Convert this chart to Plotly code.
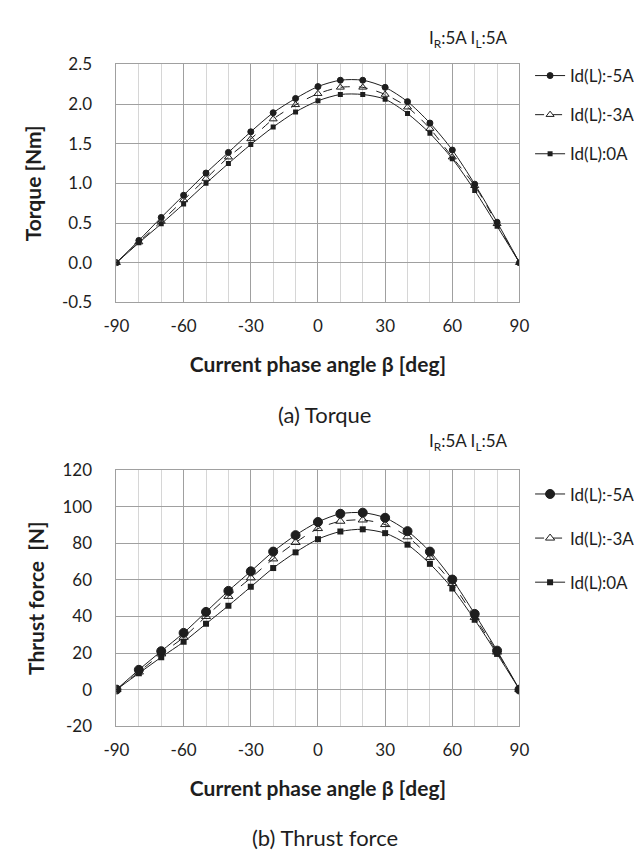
import plotly.graph_objects as go

beta = [-90, -80, -70, -60, -50, -40, -30, -20, -10, 0, 10, 20, 30, 40, 50, 60, 70, 80, 90]

torque_m5 = [0.0, 0.28, 0.57, 0.85, 1.13, 1.39, 1.65, 1.89, 2.07, 2.22, 2.30, 2.30, 2.21, 2.03, 1.76, 1.42, 0.99, 0.51, 0.0]
torque_m3 = [0.0, 0.26, 0.52, 0.79, 1.06, 1.33, 1.56, 1.81, 1.99, 2.13, 2.21, 2.21, 2.12, 1.96, 1.69, 1.33, 0.97, 0.49, 0.0]
torque_0 = [0.0, 0.25, 0.49, 0.74, 1.00, 1.25, 1.49, 1.71, 1.90, 2.04, 2.12, 2.12, 2.06, 1.88, 1.63, 1.31, 0.91, 0.46, 0.0]

thrust_m5 = [0.0, 10.8, 21.0, 31.0, 42.5, 54.0, 64.7, 75.5, 84.5, 91.7, 96.2, 96.8, 94.0, 86.7, 75.5, 60.2, 41.4, 21.3, 0.0]
thrust_m3 = [0.0, 9.6, 19.5, 28.6, 40.0, 51.0, 61.1, 71.5, 80.5, 88.1, 92.1, 92.8, 90.3, 83.6, 72.3, 58.0, 39.5, 20.5, 0.0]
thrust_0 = [0.0, 8.9, 17.7, 26.1, 36.0, 45.9, 56.2, 66.5, 75.1, 82.3, 86.5, 87.7, 85.6, 79.3, 68.8, 55.3, 38.2, 19.5, 0.0]

names = ["Id(L):-5A", "Id(L):-3A", "Id(L):0A"]
x_ticks = [-90, -60, -30, 0, 30, 60, 90]
x_ticktext = ["-90", "-60", "-30", "0", "30", "60", "90"]
torque_ticks = [-0.5, 0.0, 0.5, 1.0, 1.5, 2.0, 2.5]
torque_ticktext = ["-0.5", "0.0", "0.5", "1.0", "1.5", "2.0", "2.5"]
thrust_ticks = [-20, 0, 20, 40, 60, 80, 100, 120]
thrust_ticktext = ["-20", "0", "20", "40", "60", "80", "100", "120"]

FONT = "Lato, 'Noto Sans', sans-serif"
INK = "#1e1e1e"
W, H = 642, 851

fig = go.Figure()

styles = [
    dict(symbol="circle", color=INK, line=dict(color=INK, width=1)),
    dict(symbol="triangle-up-open", color=INK, line=dict(color=INK, width=1)),
    dict(symbol="square", color=INK, line=dict(color=INK, width=0)),
]
dashes = ["solid", "dash", "solid"]
top_sizes = [6, 7, 5]
bot_sizes = [9, 8, 6]

for i, (ys, nm) in enumerate(zip([torque_m5, torque_m3, torque_0], names)):
    fig.add_trace(go.Scatter(
        x=beta, y=ys, name=nm, mode="lines+markers",
        line=dict(color=INK, width=1, dash=dashes[i], shape="spline", smoothing=0.8),
        marker=dict(size=top_sizes[i], **styles[i]),
        xaxis="x", yaxis="y", legend="legend", legendgroup="a" + str(i),
    ))

for i, (ys, nm) in enumerate(zip([thrust_m5, thrust_m3, thrust_0], names)):
    fig.add_trace(go.Scatter(
        x=beta, y=ys, name=nm, mode="lines+markers",
        line=dict(color=INK, width=1, dash=dashes[i], shape="spline", smoothing=0.8),
        marker=dict(size=bot_sizes[i], **styles[i]),
        xaxis="x2", yaxis="y2", legend="legend2", legendgroup="b" + str(i),
    ))

x_dom = [99 / W, 517 / W]
top_dom = [1 - 290.5 / H, 1 - 46.5 / H]
bot_dom = [1 - 725 / H, 1 - 462.7 / H]

GRID = "#a0a0a0"
xax = dict(
    range=[-90, 90], tickvals=x_ticks, ticktext=x_ticktext, ticks="", showgrid=True,
    gridcolor=GRID, gridwidth=1, zeroline=False,
    showline=True, linecolor=GRID, linewidth=1, mirror=True,
    minor=dict(dtick=10, showgrid=True, gridcolor="#d6d6d6", gridwidth=1, ticks=""),
    tickfont=dict(family=FONT, size=17, color=INK),
    ticklabelstandoff=8,
    title=dict(text="<b>Current phase angle β [deg]</b>", font=dict(family=FONT, size=21, color=INK), standoff=22),
)

yax_common = dict(
    ticks="", showgrid=True, gridcolor=GRID, zeroline=False,
    showline=True, linecolor=GRID, mirror=True,
    tickfont=dict(family=FONT, size=17, color=INK), ticklabelstandoff=20,
)

fig.update_layout(
    width=W, height=H,
    margin=dict(l=0, r=0, t=0, b=0),
    paper_bgcolor="white", plot_bgcolor="white",
    showlegend=True,
    xaxis=dict(domain=x_dom, anchor="y", **xax),
    xaxis2=dict(domain=x_dom, anchor="y2", **xax),
    yaxis=dict(
        domain=top_dom, anchor="x", range=[-0.5, 2.5], tickvals=torque_ticks, ticktext=torque_ticktext,
        title=dict(text="<b>Torque [Nm]</b>", font=dict(family=FONT, size=21, color=INK), standoff=14),
        **yax_common,
    ),
    yaxis2=dict(
        domain=bot_dom, anchor="x2", range=[-20, 120], tickvals=thrust_ticks, ticktext=thrust_ticktext,
        title=dict(text="<b>Thrust force  [N]</b>", font=dict(family=FONT, size=21, color=INK), standoff=12),
        **yax_common,
    ),
    legend=dict(
        x=528 / W, xanchor="left", y=1 - 40 / H, yanchor="top",
        font=dict(family=FONT, size=17, color=INK), tracegroupgap=14,
        bgcolor="rgba(0,0,0,0)", itemwidth=30,
    ),
    legend2=dict(
        x=528 / W, xanchor="left", y=1 - 469 / H, yanchor="top",
        font=dict(family=FONT, size=17, color=INK), tracegroupgap=19,
        bgcolor="rgba(0,0,0,0)", itemwidth=30,
    ),
    annotations=[
        dict(text="I<sub>R</sub>:5A I<sub>L</sub>:5A", x=507 / W, y=1 - 20 / H, xref="paper", yref="paper",
             xanchor="right", yanchor="middle", showarrow=False, font=dict(family=FONT, size=17, color=INK)),
        dict(text="I<sub>R</sub>:5A I<sub>L</sub>:5A", x=507 / W, y=1 - 434 / H, xref="paper", yref="paper",
             xanchor="right", yanchor="middle", showarrow=False, font=dict(family=FONT, size=17, color=INK)),
        dict(text="(a) Torque", x=315 / W, y=1 - 405 / H, xref="paper", yref="paper",
             xanchor="center", yanchor="middle", showarrow=False, font=dict(family=FONT, size=22, color=INK)),
        dict(text="(b) Thrust force", x=315 / W, y=1 - 839 / H, xref="paper", yref="paper",
             xanchor="center", yanchor="middle", showarrow=False, font=dict(family=FONT, size=22, color=INK)),
    ],
)

fig.write_html("out.html")
